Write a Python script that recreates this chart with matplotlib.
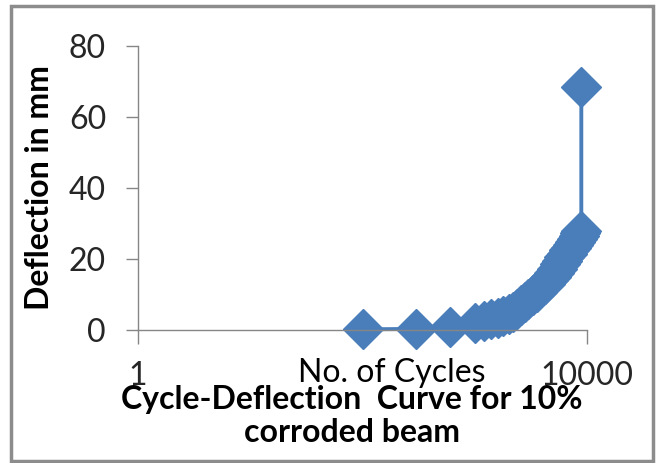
import matplotlib
matplotlib.use("Agg")
import matplotlib.pyplot as plt
from matplotlib.patches import Rectangle

cycles = [100, 300, 600, 1000, 1200, 1400, 1600, 1800, 2000, 2200, 2400, 2600,
          2800, 3000, 3300, 3600, 3900, 4200, 4500, 4800, 5100, 5400, 5700,
          6000, 6300, 6600, 6900, 7200, 7500, 7800, 8100, 8400, 8700, 8900, 8900]
deflection = [0.2, 0.3, 0.8, 2.0, 2.6, 3.1, 3.5, 4.0, 4.6, 5.2, 6.0, 7.0,
              8.0, 8.8, 9.8, 10.8, 12.0, 13.0, 14.0, 15.0, 16.0, 17.2, 18.5,
              19.5, 20.5, 21.5, 22.5, 23.2, 24.0, 24.8, 25.6, 26.4, 27.2, 27.8, 68.5]
yticks = [0, 20, 40, 60, 80]
xticks = [1, 10000]
xticklabels = ["1", "10000"]
x_label = "No. of Cycles"
y_label = "Deflection in mm"
title = "Cycle-Deflection  Curve for 10%\ncorroded beam"

plt.rcParams['font.family'] = ['Lato', 'DejaVu Sans']
W, H = 657, 463
fig = plt.figure(figsize=(W / 100, H / 100), dpi=100)
fig.patch.set_facecolor('white')
fig.patches.append(Rectangle((11 / W, 1 - 461 / H), (653 - 11) / W, (461 - 6) / H,
                             transform=fig.transFigure, fill=False,
                             edgecolor='#8c8c8c', linewidth=2.5))

ax = fig.add_axes([138 / W, 1 - 330 / H, (587 - 138) / W, (330 - 46) / H])
color = '#4a7ebb'
ax.plot(cycles, deflection, color=color, linewidth=2.8, marker='D',
        markersize=20, markerfacecolor=color, markeredgecolor=color, clip_on=False)
ax.set_xscale('log')
ax.set_xlim(1, 10000)
ax.set_ylim(0, 80)
ax.set_yticks(yticks)
ax.set_xticks(xticks)
ax.set_xticklabels(xticklabels)
ax.xaxis.set_minor_locator(matplotlib.ticker.NullLocator())
for s in ['top', 'right']:
    ax.spines[s].set_visible(False)
for s in ['left', 'bottom']:
    ax.spines[s].set_color('#868686')
    ax.spines[s].set_linewidth(1.0)
ax.tick_params(axis='y', direction='out', length=9, width=1.0, color='#868686',
               pad=14, labelsize=23, labelcolor='#262626')
ax.tick_params(axis='x', direction='out', length=10, width=1.0, color='#868686',
               pad=12, labelsize=23, labelcolor='#262626')
ax.set_xlabel(x_label, fontsize=23, color='#000000')
ax.xaxis.set_label_coords((392 - 138) / 449, (330 - 358) / 284)

fig.text(40 / W, 1 - 188 / H, y_label, rotation=90, ha='center', va='center',
         fontsize=23, fontweight='bold', color='#000000')
fig.text(352 / W, 1 - 416 / H, title, ha='center', va='center', fontsize=23,
         fontweight='bold', color='#000000', linespacing=1.15)

fig.savefig('out.png', dpi=100)
